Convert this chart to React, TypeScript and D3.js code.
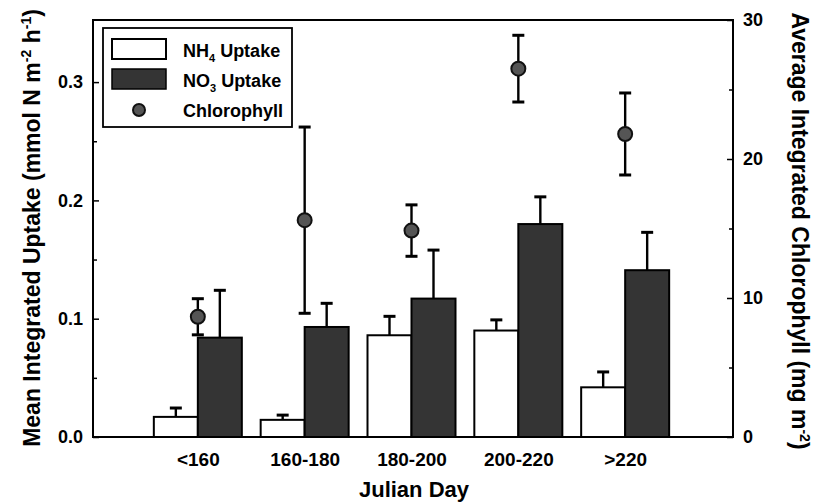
import { useEffect, useRef } from 'react';
import * as d3 from 'd3';

// Julian day bins
const categories = ['<160', '160-180', '180-200', '200-220', '>220'];

// NH4 uptake (mmol N m-2 h-1), mean and upper error
const nh4 = [0.017, 0.0145, 0.086, 0.090, 0.042];
const nh4Err = [0.0075, 0.004, 0.016, 0.009, 0.013];

// NO3 uptake
const no3 = [0.084, 0.093, 0.117, 0.180, 0.141];
const no3Err = [0.040, 0.020, 0.041, 0.023, 0.032];

// chlorophyll (mg m-2) on the right axis
const chl = [8.65, 15.6, 14.85, 26.5, 21.8];
const chlErr = [1.3, 6.7, 1.85, 2.4, 2.95];

const leftTicks = [0, 0.1, 0.2, 0.3];
const leftMinor = [0.05, 0.15, 0.25];
const rightTicks = [0, 10, 20, 30];
const rightMinor = [5, 15, 25];

const W = 817;
const H = 503;
const M = { left: 93, right: 733, top: 20, bottom: 437 };
const BAR_W = 44;
const CAP = 6;
const FONT = "'Liberation Sans', Arial, Helvetica, sans-serif";
const DARK = '#343434';

export default function App() {
  const ref = useRef<SVGSVGElement>(null);

  useEffect(() => {
    if (!ref.current) return;
    const svg = d3.select(ref.current);
    svg.selectAll('*').remove();

    const x = d3.scalePoint<string>().domain(categories).range([91, 732]).padding(1);
    const y = d3.scaleLinear().domain([0, (M.bottom - M.top) / 1183]).range([M.bottom, M.top]);
    const y2 = d3.scaleLinear().domain([0, 30]).range([M.bottom, M.top]);

    // ── bars ─────────────────────────────────────────
    const bars = svg.append('g');
    categories.forEach((c, i) => {
      const cx = x(c)!;
      // NH4 (white)
      bars.append('rect')
        .attr('x', cx - BAR_W).attr('y', y(nh4[i]))
        .attr('width', BAR_W).attr('height', y(0) - y(nh4[i]))
        .attr('fill', '#fff').attr('stroke', '#000').attr('stroke-width', 2);
      // NO3 (dark)
      bars.append('rect')
        .attr('x', cx).attr('y', y(no3[i]))
        .attr('width', BAR_W).attr('height', y(0) - y(no3[i]))
        .attr('fill', DARK).attr('stroke', '#000').attr('stroke-width', 2);

      // upper error bars
      const errs: [number, number, number][] = [
        [cx - BAR_W / 2, nh4[i], nh4Err[i]],
        [cx + BAR_W / 2, no3[i], no3Err[i]],
      ];
      errs.forEach(([ex, v, e]) => {
        bars.append('line')
          .attr('x1', ex).attr('x2', ex).attr('y1', y(v)).attr('y2', y(v + e))
          .attr('stroke', '#000').attr('stroke-width', 2.4);
        bars.append('line')
          .attr('x1', ex - CAP).attr('x2', ex + CAP).attr('y1', y(v + e)).attr('y2', y(v + e))
          .attr('stroke', '#000').attr('stroke-width', 3);
      });

      // chlorophyll point with symmetric error
      const lo = chl[i] - chlErr[i];
      const hi = chl[i] + chlErr[i];
      bars.append('line')
        .attr('x1', cx).attr('x2', cx).attr('y1', y2(lo)).attr('y2', y2(hi))
        .attr('stroke', '#000').attr('stroke-width', 2.4);
      [lo, hi].forEach(v => {
        bars.append('line')
          .attr('x1', cx - CAP).attr('x2', cx + CAP).attr('y1', y2(v)).attr('y2', y2(v))
          .attr('stroke', '#000').attr('stroke-width', 3);
      });
      bars.append('circle')
        .attr('cx', cx).attr('cy', y2(chl[i])).attr('r', 7)
        .attr('fill', '#555').attr('stroke', '#111').attr('stroke-width', 2);
    });

    // ── frame ────────────────────────────────────────
    svg.append('rect')
      .attr('x', M.left).attr('y', M.top)
      .attr('width', M.right - M.left).attr('height', M.bottom - M.top)
      .attr('fill', 'none').attr('stroke', '#000').attr('stroke-width', 2);

    const styleAxis = (g: d3.Selection<SVGGElement, unknown, null, undefined>) => {
      g.select('.domain').remove();
      g.selectAll('.tick line').attr('stroke', '#000').attr('stroke-width', 1.5);
      g.selectAll('text')
        .attr('fill', '#000').attr('font-size', 18).attr('font-weight', 'bold')
        .attr('font-family', FONT);
    };

    // ── left axis ───────────────────────────────────
    svg.append('g').attr('transform', `translate(${M.left},0)`)
      .call(d3.axisLeft(y).tickValues(leftTicks).tickSize(-6).tickPadding(10).tickFormat(d3.format('.1f')))
      .call(styleAxis);
    svg.append('g').attr('transform', `translate(${M.left},0)`)
      .call(d3.axisLeft(y).tickValues(leftMinor).tickSize(-4).tickFormat(() => ''))
      .call(styleAxis);

    // ── right axis ──────────────────────────────────
    svg.append('g').attr('transform', `translate(${M.right},0)`)
      .call(d3.axisRight(y2).tickValues(rightTicks).tickSize(-6).tickPadding(10).tickFormat(d3.format('d')))
      .call(styleAxis);
    svg.append('g').attr('transform', `translate(${M.right},0)`)
      .call(d3.axisRight(y2).tickValues(rightMinor).tickSize(-4).tickFormat(() => ''))
      .call(styleAxis);

    // ── x axis labels ───────────────────────────────
    svg.append('g').attr('transform', `translate(0,${M.bottom})`)
      .call(d3.axisBottom(x).tickSize(0).tickPadding(16))
      .call(styleAxis)
      .call(g => g.selectAll('text').attr('font-size', 19));

    // ── titles ──────────────────────────────────────
    svg.append('text')
      .attr('x', 414).attr('y', 497).attr('text-anchor', 'middle')
      .attr('font-size', 22).attr('font-weight', 'bold').attr('font-family', FONT)
      .text('Julian Day');

    const lt = svg.append('text')
      .attr('transform', 'translate(40,228) rotate(-90)')
      .attr('text-anchor', 'middle')
      .attr('font-size', 23).attr('font-weight', 'bold').attr('font-family', FONT);
    lt.append('tspan').text('Mean Integrated Uptake (mmol N m');
    lt.append('tspan').attr('dy', -9).attr('font-size', 14).text('-2');
    lt.append('tspan').attr('dy', 9).text(' h');
    lt.append('tspan').attr('dy', -9).attr('font-size', 14).text('-1');
    lt.append('tspan').attr('dy', 9).text(')');

    const rt = svg.append('text')
      .attr('transform', 'translate(792,231) rotate(90)')
      .attr('text-anchor', 'middle')
      .attr('font-size', 23).attr('font-weight', 'bold').attr('font-family', FONT);
    rt.append('tspan').text('Average Integrated Chlorophyll (mg m');
    rt.append('tspan').attr('dy', -8).attr('font-size', 14).text('-2');
    rt.append('tspan').attr('dy', 8).text(')');

    // ── legend ──────────────────────────────────────
    const lg = svg.append('g');
    lg.append('rect').attr('x', 103).attr('y', 28).attr('width', 189).attr('height', 99)
      .attr('fill', '#fff').attr('stroke', '#000').attr('stroke-width', 1.8);
    lg.append('rect').attr('x', 112).attr('y', 39).attr('width', 54).attr('height', 20)
      .attr('fill', '#fff').attr('stroke', '#000').attr('stroke-width', 2);
    lg.append('rect').attr('x', 112).attr('y', 69).attr('width', 54).attr('height', 20)
      .attr('fill', DARK).attr('stroke', '#000').attr('stroke-width', 1.5);
    lg.append('circle').attr('cx', 139).attr('cy', 110).attr('r', 6)
      .attr('fill', '#555').attr('stroke', '#111').attr('stroke-width', 2);

    const legendText = (yy: number, main: string, sub: string | null, rest: string) => {
      const t = lg.append('text').attr('x', 183).attr('y', yy)
        .attr('font-size', 18).attr('font-weight', 'bold').attr('font-family', FONT);
      t.append('tspan').text(main);
      if (sub) {
        t.append('tspan').attr('dy', 5).attr('font-size', 11).text(sub);
        t.append('tspan').attr('dy', -5).text(rest);
      }
    };
    legendText(57, 'NH', '4', ' Uptake');
    legendText(87, 'NO', '3', ' Uptake');
    legendText(117, 'Chlorophyll', null, '');
  }, []);

  return (
    <svg
      ref={ref}
      width={W}
      height={H}
      style={{ position: 'absolute', left: 0, top: 0, background: '#fff' }}
    />
  );
}
